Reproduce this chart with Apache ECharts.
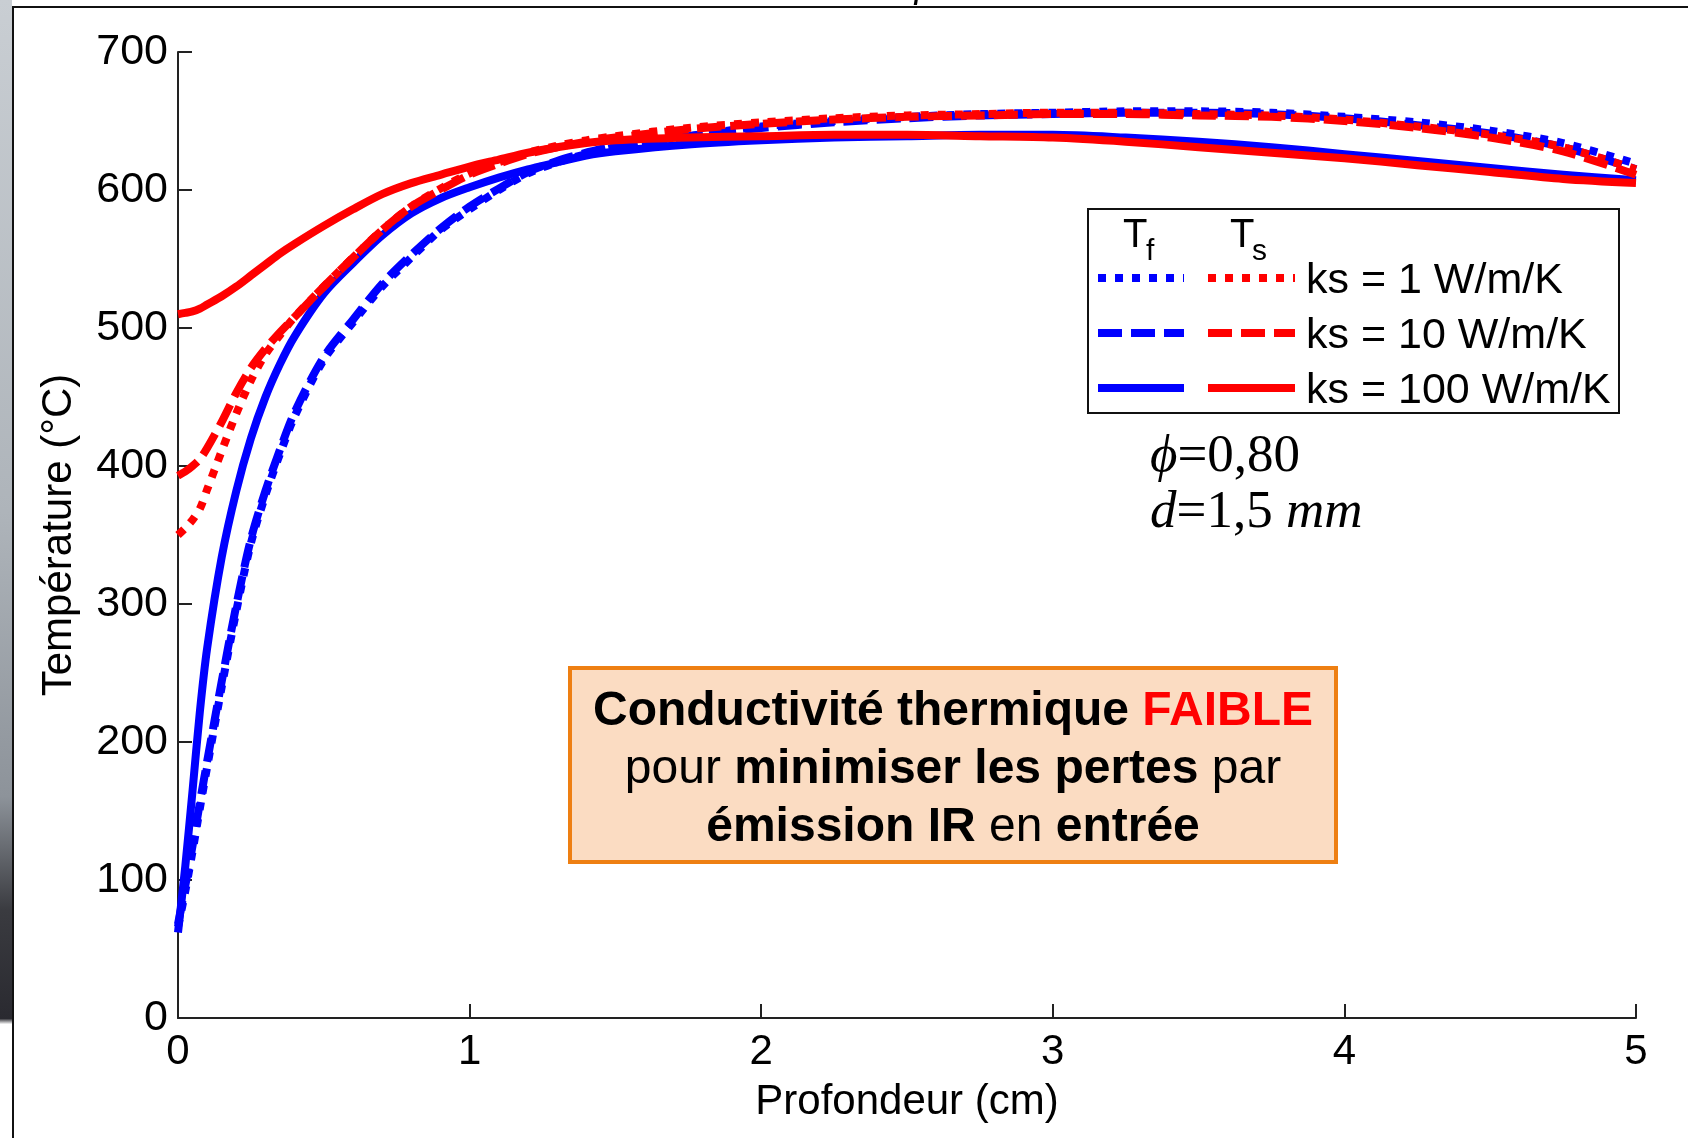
<!DOCTYPE html>
<html>
<head>
<meta charset="utf-8">
<script src="https://cdn.jsdelivr.net/npm/echarts@6/dist/echarts.min.js"></script>
<style>
html,body{margin:0;padding:0;background:#fff;}
#chart{width:1688px;height:1138px;}
</style>
</head>
<body>
<div id="chart"></div>
<script>
// Depth (cm)
var depth = [0, 0.025, 0.05, 0.075, 0.1, 0.15, 0.2, 0.25, 0.3, 0.35, 0.4, 0.5, 0.6, 0.7, 0.8, 0.9, 1.0, 1.1, 1.2, 1.3, 1.4, 1.5, 1.75, 2.0, 2.25, 2.5, 2.75, 3.0, 3.25, 3.5, 3.75, 4.0, 4.25, 4.5, 4.75, 5.0];
// Fluid temperature Tf (°C)
var tfKs1   = [66, 92, 121, 152, 182, 240, 295, 344, 379, 409, 436, 477, 504, 530, 551, 571, 586, 600, 612, 620, 626, 631, 639, 646, 650, 653, 655, 656, 657, 657, 656, 653, 649, 643, 634, 619];
var tfKs10  = [68, 96, 125, 156, 186, 244, 299, 347, 382, 412, 439, 479, 506, 532, 553, 572, 588, 601, 613, 621, 627, 632, 639, 645, 649, 652, 654, 655, 656, 656, 655, 652, 647, 641, 631, 615];
var tfKs100 = [62, 110, 165, 222, 268, 334, 382, 420, 450, 474, 494, 525, 547, 567, 583, 594, 602, 609, 615, 620, 625, 628, 633, 636, 638, 639, 640, 640, 638, 635, 631, 626, 621, 616, 611, 607];
// Solid temperature Ts (°C)
var tsKs1   = [350, 355, 361, 369, 383, 411, 438, 462, 481, 495, 508, 530, 551, 571, 588, 601, 612, 620, 627, 632, 636, 639, 645, 649, 652, 654, 655, 656, 656, 655, 654, 651, 646, 640, 631, 615];
var tsKs10  = [393, 396, 400, 405, 413, 432, 453, 471, 485, 497, 508, 530, 551, 571, 588, 600, 611, 619, 626, 631, 635, 638, 644, 648, 651, 653, 654, 655, 655, 654, 653, 650, 645, 638, 628, 611];
var tsKs100 = [510, 511, 512, 514, 517, 523, 530, 538, 546, 554, 561, 574, 586, 597, 605, 611, 617, 622, 627, 631, 634, 636, 638, 639, 640, 640, 639, 638, 635, 631, 627, 623, 618, 613, 608, 605];

var xTicks = [0, 1, 2, 3, 4, 5];
var yTicks = [0, 100, 200, 300, 400, 500, 600, 700];
var legendRows = ['ks = 1 W/m/K', 'ks = 10 W/m/K', 'ks = 100 W/m/K'];

var BLUE = '#0000ff', RED = '#ff0000';
var SANS = '"Liberation Sans", Arial, Helvetica, sans-serif';
var SERIF = '"Liberation Serif", "Times New Roman", serif';
var DOT = [8, 9], DASH = [24, 9];

function pairs(arr){ return depth.map(function(x, i){ return [x, arr[i]]; }); }
function mk(name, arr, color, dash){
  return {
    name: name, type: 'line', data: pairs(arr), showSymbol: false, symbol: 'none',
    smooth: 0.3,
    lineStyle: { color: color, width: 8, type: dash || 'solid', cap: 'butt', join: 'round' },
    emphasis: { disabled: true }, animation: false
  };
}

var chart = echarts.init(document.getElementById('chart'), null, { renderer: 'canvas' });

var LX = 1088, LY = 209, LW = 531, LH = 204;
var rowY = [278, 333, 388];
var graphics = [];
// left background strip
graphics.push({ type: 'rect', shape: { x: 0, y: 0, width: 12, height: 1138 }, z: 0,
  style: { fill: new echarts.graphic.LinearGradient(0, 0, 0, 1, [
    { offset: 0, color: '#c9ced3' }, { offset: 0.45, color: '#aeb4ba' },
    { offset: 0.7, color: '#8d939a' }, { offset: 0.8, color: '#3a3b40' },
    { offset: 0.895, color: '#2a2a30' }, { offset: 0.9, color: '#ffffff' }, { offset: 1, color: '#ffffff' }]) } });
// cropped slide title fragment at top
graphics.push({ type: 'text', x: 880, y: 5, z: 0, style: { text: 'T/f', font: 'italic 40px ' + SERIF, fill: '#000', verticalAlign: 'bottom' } });
// frame
graphics.push({ type: 'polyline', shape: { points: [[13, 1138], [13, 7], [1688, 7]] }, z: 1,
  style: { stroke: '#111', lineWidth: 2, fill: null } });
// legend box
graphics.push({ type: 'rect', shape: { x: LX, y: LY, width: LW, height: LH }, z: 10,
  style: { fill: '#fff', stroke: '#111', lineWidth: 2 } });
graphics.push({ type: 'text', x: 1123, y: 256, z: 11, style: { text: 'T', font: '40px ' + SANS, fill: '#000', verticalAlign: 'bottom' } });
graphics.push({ type: 'text', x: 1146, y: 267, z: 11, style: { text: 'f', font: '30px ' + SANS, fill: '#000', verticalAlign: 'bottom' } });
graphics.push({ type: 'text', x: 1230, y: 256, z: 11, style: { text: 'T', font: '40px ' + SANS, fill: '#000', verticalAlign: 'bottom' } });
graphics.push({ type: 'text', x: 1252, y: 267, z: 11, style: { text: 's', font: '30px ' + SANS, fill: '#000', verticalAlign: 'bottom' } });
var dashes = [DOT, DASH, null];
for (var i = 0; i < 3; i++) {
  graphics.push({ type: 'line', z: 11, shape: { x1: 1098, y1: rowY[i], x2: 1184, y2: rowY[i] },
    style: { stroke: BLUE, lineWidth: 8, lineDash: dashes[i], lineCap: 'butt' } });
  graphics.push({ type: 'line', z: 11, shape: { x1: 1208, y1: rowY[i], x2: 1295, y2: rowY[i] },
    style: { stroke: RED, lineWidth: 8, lineDash: dashes[i], lineCap: 'butt' } });
  graphics.push({ type: 'text', x: 1306, y: rowY[i] + 3, z: 11,
    style: { text: legendRows[i], font: '43px ' + SANS, fill: '#000', verticalAlign: 'middle' } });
}
// parameters
graphics.push({ type: 'text', x: 1150, y: 457, z: 11, style: {
  text: '{i|ϕ}{u|=0,80}', verticalAlign: 'middle',
  rich: { i: { fontFamily: SERIF, fontStyle: 'italic', fontSize: 53, fill: '#000' },
          u: { fontFamily: SERIF, fontSize: 53, fill: '#000' } } } });
graphics.push({ type: 'text', x: 1150, y: 513, z: 11, style: {
  text: '{i|d}{u|=1,5 }{i|mm}', verticalAlign: 'middle',
  rich: { i: { fontFamily: SERIF, fontStyle: 'italic', fontSize: 53, fill: '#000' },
          u: { fontFamily: SERIF, fontSize: 53, fill: '#000' } } } });
// annotation box
graphics.push({ type: 'rect', shape: { x: 570, y: 668, width: 766, height: 194 }, z: 10,
  style: { fill: '#fbdcc2', stroke: '#ee7f12', lineWidth: 4 } });
var rb = { fontFamily: SANS, fontWeight: 'bold', fontSize: 48, fill: '#000', lineHeight: 58 };
var rr = { fontFamily: SANS, fontWeight: 'bold', fontSize: 48, fill: '#ff0000', lineHeight: 58 };
var rn = { fontFamily: SANS, fontSize: 48, fill: '#000', lineHeight: 58 };
graphics.push({ type: 'text', x: 953, y: 770, z: 11, style: {
  text: '{b|Conductivité thermique }{r|FAIBLE}\n{n|pour }{b|minimiser les pertes}{n| par}\n{b|émission IR}{n| en }{b|entrée}',
  align: 'center', verticalAlign: 'middle', rich: { b: rb, r: rr, n: rn } } });

var option = {
  backgroundColor: '#ffffff',
  animation: false,
  grid: { left: 178, top: 52, right: 52, bottom: 120, containLabel: false },
  xAxis: {
    type: 'value', min: 0, max: 5, interval: 1,
    name: 'Profondeur (cm)', nameLocation: 'middle', nameGap: 63,
    nameTextStyle: { color: '#000', fontSize: 42, fontFamily: SANS },
    axisLine: { show: true, lineStyle: { color: '#222', width: 2 } },
    axisTick: { show: true, inside: true, length: 14, lineStyle: { color: '#222', width: 2 } },
    axisLabel: { color: '#000', fontSize: 42, fontFamily: SANS, margin: 13,
      formatter: function(v){ return xTicks.indexOf(v) >= 0 ? String(v) : ''; } },
    splitLine: { show: false }
  },
  yAxis: {
    type: 'value', min: 0, max: 700, interval: 100,
    name: 'Température (°C)', nameLocation: 'middle', nameGap: 98,
    nameTextStyle: { color: '#000', fontSize: 42, fontFamily: SANS },
    axisLine: { show: true, lineStyle: { color: '#222', width: 2 } },
    axisTick: { show: true, inside: true, length: 14, lineStyle: { color: '#222', width: 2 } },
    axisLabel: { color: '#000', fontSize: 43, fontFamily: SANS, margin: 10,
      formatter: function(v){ return yTicks.indexOf(v) >= 0 ? String(v) : ''; } },
    splitLine: { show: false }
  },
  series: [
    mk('Tf ks=1', tfKs1, BLUE, DOT),
    mk('Tf ks=10', tfKs10, BLUE, DASH),
    mk('Tf ks=100', tfKs100, BLUE, 'solid'),
    mk('Ts ks=1', tsKs1, RED, DOT),
    mk('Ts ks=10', tsKs10, RED, DASH),
    mk('Ts ks=100', tsKs100, RED, 'solid')
  ],
  graphic: graphics
};
chart.setOption(option);
</script>
</body>
</html>
